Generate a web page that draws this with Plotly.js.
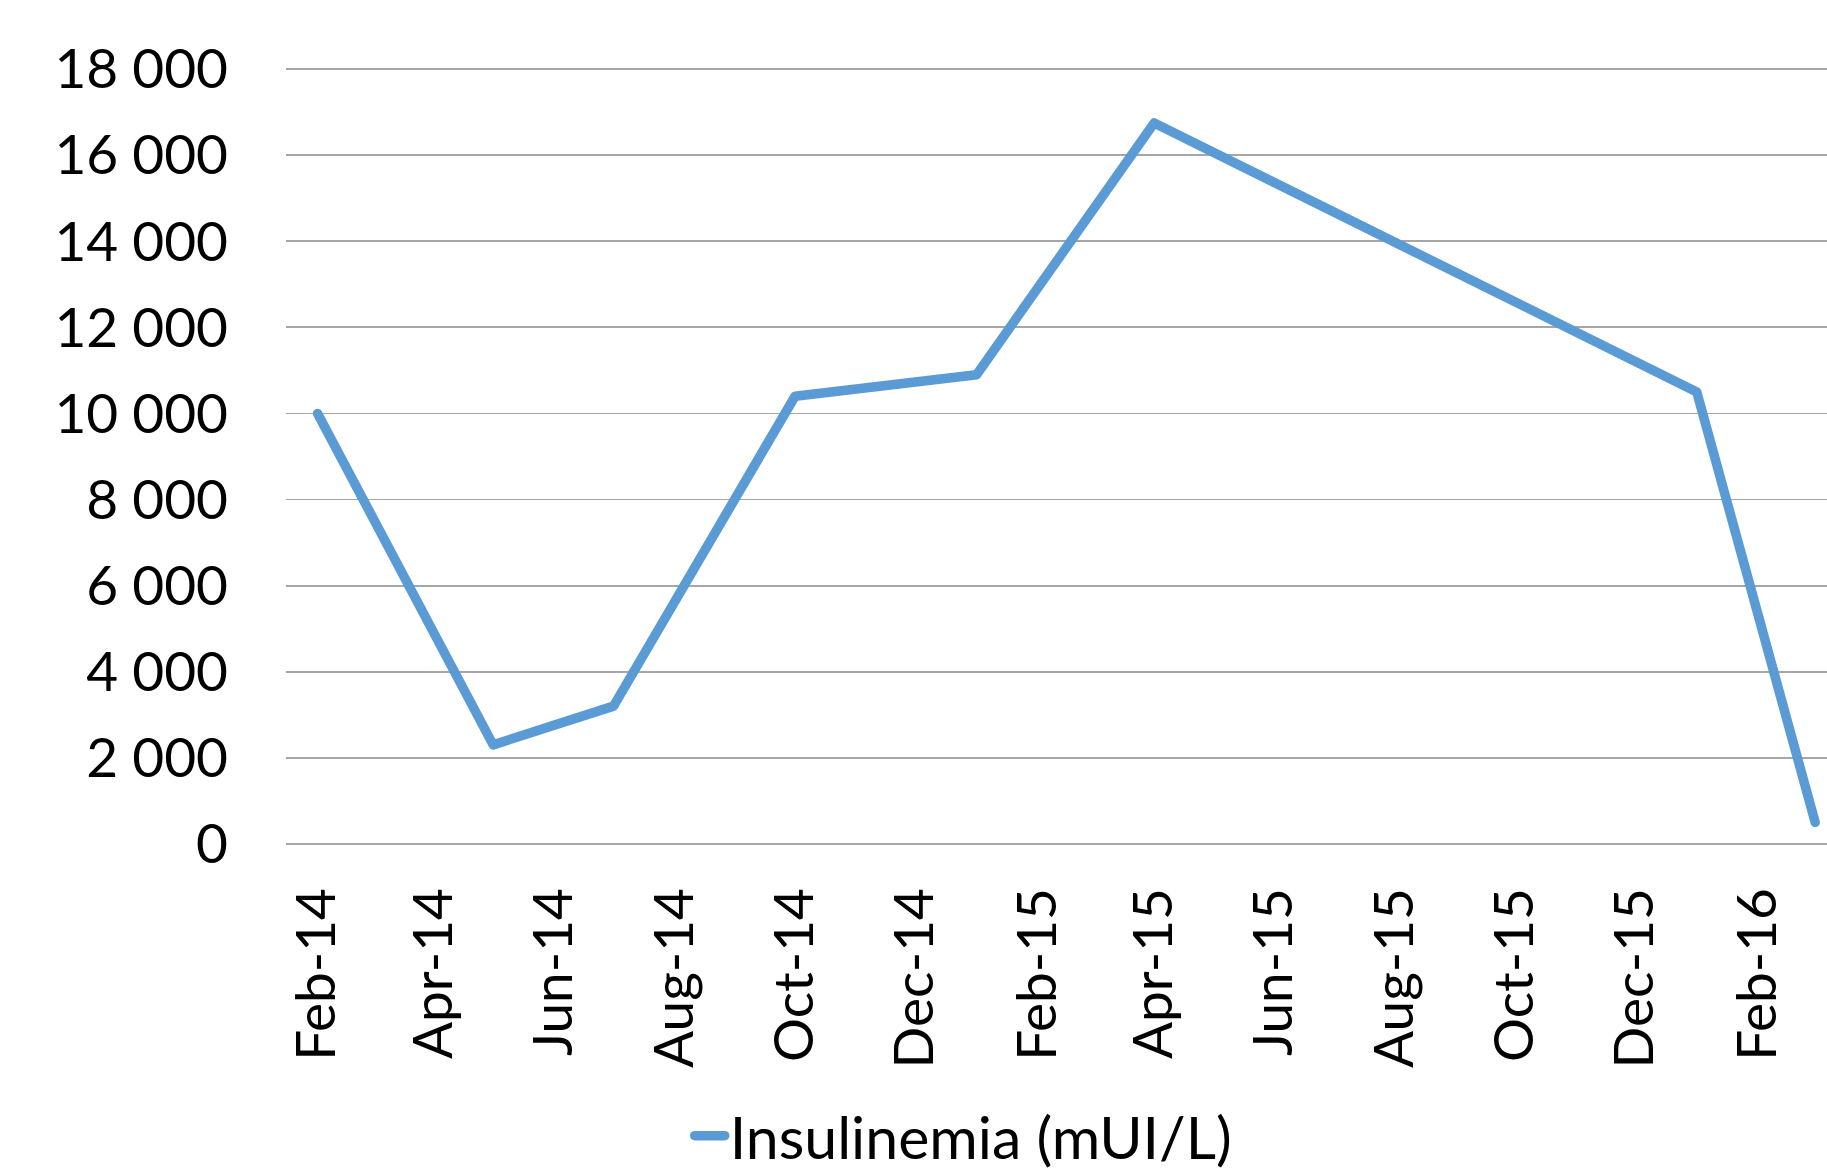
<!DOCTYPE html>
<html>
<head>
<meta charset="utf-8">
<script src="https://cdn.plot.ly/plotly-3.0.1.min.js"></script>
<style>
  html, body { margin: 0; padding: 0; background: #ffffff; }
  #chart { width: 1827px; height: 1171px; }
  #chart .js-line { stroke-linecap: round; stroke-linejoin: round; }
  #chart .legendlines path { stroke-linecap: round; }
</style>
</head>
<body>
<div id="chart"></div>
<script>
// Data
const dates = ["2014-02-01", "2014-05-01", "2014-07-01", "2014-10-01", "2015-01-01", "2015-04-01", "2016-01-01", "2016-03-01"];
const insulinemia = [10000, 2300, 3200, 10400, 10900, 16750, 10500, 500];
const seriesName = "Insulinemia (mUI/L)";
const yTicks = [0, 2000, 4000, 6000, 8000, 10000, 12000, 14000, 16000, 18000];

const FONT = "Lato, 'Open Sans', sans-serif";

const trace = {
  type: "scatter",
  mode: "lines",
  x: dates,
  y: insulinemia,
  name: seriesName,
  line: { color: "#5B9BD5", width: 9.5 },
  showlegend: true
};

const layout = {
  width: 1827,
  height: 1171,
  margin: { l: 286, r: 0, t: 67, b: 325, pad: 0, autoexpand: false },
  paper_bgcolor: "#ffffff",
  plot_bgcolor: "#ffffff",
  separators: ". ",
  font: { family: FONT, size: 55, color: "#000000" },
  xaxis: {
    type: "date",
    range: ["2014-01-16", "2016-03-07"],
    tick0: "2014-02-01",
    dtick: "M2",
    tickformat: "%b-%y",
    tickangle: -90,
    showgrid: false,
    zeroline: false,
    showline: false,
    ticks: "outside",
    ticklen: 19,
    tickcolor: "rgba(0,0,0,0)",
    tickfont: { family: FONT, size: 55, color: "#000000" },
    automargin: false,
    fixedrange: true
  },
  yaxis: {
    range: [-50, 18050],
    tickmode: "array",
    tickvals: yTicks,
    tickformat: ",d",
    showgrid: true,
    gridcolor: "#a6a6a6",
    gridwidth: 1.8,
    zeroline: false,
    showline: false,
    ticks: "outside",
    ticklen: 46,
    tickcolor: "rgba(0,0,0,0)",
    tickfont: { family: FONT, size: 55, color: "#000000" },
    automargin: false,
    fixedrange: true
  },
  showlegend: true,
  legend: {
    orientation: "h",
    x: 0.262,
    xanchor: "left",
    y: -0.372,
    yanchor: "middle",
    font: { family: FONT, size: 59, color: "#000000" },
    bgcolor: "rgba(0,0,0,0)",
    borderwidth: 0
  }
};

Plotly.newPlot("chart", [trace], layout, { displayModeBar: false, staticPlot: true });
</script>
</body>
</html>
